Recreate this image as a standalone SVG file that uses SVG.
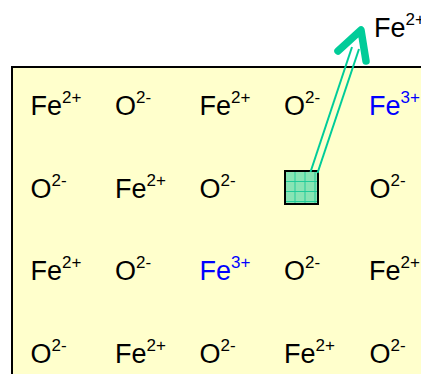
<svg xmlns="http://www.w3.org/2000/svg" width="421" height="374" viewBox="0 0 421 374">
<style>
text{font-family:"Liberation Sans",Arial,sans-serif;font-size:27px;fill:#000}
.b{fill:#0000ff}
.s{font-size:17px}
.c{stroke:#00cc99;fill:none}
</style>
<rect x="0" y="0" width="421" height="374" fill="#ffffff"/>
<g id="crystal">
<rect x="12" y="67" width="430" height="330" fill="#ffffcc" stroke="#000" stroke-width="2"/>
</g>
<g id="ions">
<g id="r1c1"><text x="30.5" y="115">Fe<tspan class="s" dy="-12">2+</tspan></text></g>
<g id="r1c2"><text x="115" y="115">O<tspan class="s" dy="-12">2-</tspan></text></g>
<g id="r1c3"><text x="199.5" y="115">Fe<tspan class="s" dy="-12">2+</tspan></text></g>
<g id="r1c4"><text x="284" y="115">O<tspan class="s" dy="-12">2-</tspan></text></g>
<g id="r1c5"><text class="b" x="369" y="115">Fe<tspan class="s" dy="-12">3+</tspan></text></g>

<g id="r2c1"><text x="30.5" y="197.5">O<tspan class="s" dy="-12">2-</tspan></text></g>
<g id="r2c2"><text x="115" y="197.5">Fe<tspan class="s" dy="-12">2+</tspan></text></g>
<g id="r2c3"><text x="199.5" y="197.5">O<tspan class="s" dy="-12">2-</tspan></text></g>
<g id="r2c5"><text x="369.5" y="197.5">O<tspan class="s" dy="-12">2-</tspan></text></g>

<g id="r3c1"><text x="30.5" y="280">Fe<tspan class="s" dy="-12">2+</tspan></text></g>
<g id="r3c2"><text x="115" y="280">O<tspan class="s" dy="-12">2-</tspan></text></g>
<g id="r3c3"><text class="b" x="199.5" y="280">Fe<tspan class="s" dy="-12">3+</tspan></text></g>
<g id="r3c4"><text x="284" y="280">O<tspan class="s" dy="-12">2-</tspan></text></g>
<g id="r3c5"><text x="369" y="280">Fe<tspan class="s" dy="-12">2+</tspan></text></g>

<g id="r4c1"><text x="30.5" y="362.5">O<tspan class="s" dy="-12">2-</tspan></text></g>
<g id="r4c2"><text x="115" y="362.5">Fe<tspan class="s" dy="-12">2+</tspan></text></g>
<g id="r4c3"><text x="199.5" y="362.5">O<tspan class="s" dy="-12">2-</tspan></text></g>
<g id="r4c4"><text x="284" y="362.5">Fe<tspan class="s" dy="-12">2+</tspan></text></g>
<g id="r4c5"><text x="369.5" y="362.5">O<tspan class="s" dy="-12">2-</tspan></text></g>
</g>
<g id="escaped"><text x="374" y="37">Fe<tspan class="s" dy="-12">2+</tspan></text></g>
<g id="vacancy">
<rect x="285" y="171" width="33" height="33" fill="#88e4b4"/>
<path d="M295 171V204M305 171V204M315 171V204M285 181.5H318M285 191.5H318M285 201.5H318" stroke="#22cc99" stroke-width="1"/>
<rect x="285" y="171" width="33" height="33" fill="none" stroke="#000" stroke-width="2"/>
</g>
<g id="connectors">
<line class="c" x1="310.5" y1="172" x2="352" y2="47" stroke-width="2"/>
<line class="c" x1="317.5" y1="173" x2="359" y2="49" stroke-width="2"/>
<polyline class="c" points="338,51 361,30 366,61" stroke-width="7.5" stroke-linecap="round" stroke-linejoin="round"/>
</g>
</svg>
